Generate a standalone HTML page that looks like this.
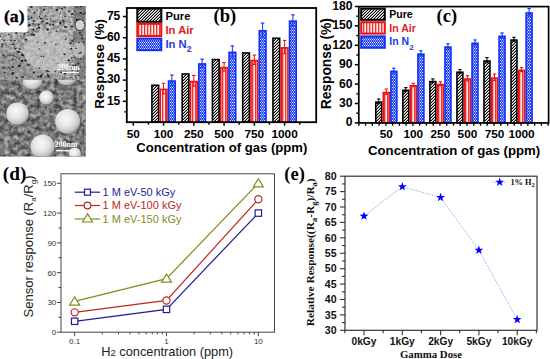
<!DOCTYPE html>
<html><head><meta charset="utf-8"><style>
html,body{margin:0;padding:0;background:#fff;}
svg{display:block;}
</style></head><body>
<svg width="550" height="359" viewBox="0 0 550 359">
<rect width="550" height="359" fill="#fff"/>
<defs>
<pattern id="hb" patternUnits="userSpaceOnUse" width="3" height="3">
<rect width="3" height="3" fill="#fff"/><rect x="0" y="2" width="1" height="1" fill="#000"/><rect x="1" y="1" width="1" height="1" fill="#000"/><rect x="2" y="0" width="1" height="1" fill="#000"/>
<rect x="0" y="1" width="1" height="1" fill="#999"/><rect x="1" y="0" width="1" height="1" fill="#999"/><rect x="2" y="2" width="1" height="1" fill="#999"/></pattern>
<pattern id="hr" patternUnits="userSpaceOnUse" width="3" height="3">
<rect width="3" height="3" fill="#f2b0b0"/><rect x="0" width="1" height="3" fill="#ee3434"/><rect x="2" width="1" height="3" fill="#fde8e8"/></pattern>
<pattern id="hn" patternUnits="userSpaceOnUse" width="2" height="3">
<rect width="2" height="3" fill="#1a3cf8"/><rect x="0" y="0" width="1" height="1" fill="#e8eeff"/><rect x="1" y="1.5" width="1" height="1" fill="#e8eeff"/></pattern>
<filter id="noise" x="0" y="0" width="100%" height="100%">
<feTurbulence type="fractalNoise" baseFrequency="0.55" numOctaves="2" seed="3" result="t"/>
<feColorMatrix in="t" type="matrix" values="0 0 0 0 0  0 0 0 0 0  0 0 0 0 0  0 0 0 -2.2 1.25" result="m"/>
<feComposite in="m" in2="SourceGraphic" operator="in"/>
</filter>
<filter id="gn1" x="0" y="0" width="100%" height="100%" color-interpolation-filters="sRGB">
<feTurbulence type="fractalNoise" baseFrequency="0.3" numOctaves="2" seed="5"/>
<feColorMatrix type="matrix" values="1.5 0 0 0 -0.2  1.5 0 0 0 -0.2  1.5 0 0 0 -0.2  0 0 0 0 1"/>
</filter>
<filter id="gn2" x="0" y="0" width="100%" height="100%" color-interpolation-filters="sRGB">
<feTurbulence type="fractalNoise" baseFrequency="0.22" numOctaves="2" seed="11"/>
<feColorMatrix type="matrix" values="1.6 0 0 0 -0.3  1.6 0 0 0 -0.3  1.6 0 0 0 -0.3  0 0 0 0 1"/>
</filter>
<radialGradient id="sph" cx="0.42" cy="0.38" r="0.62">
<stop offset="0" stop-color="#f8f8f8"/><stop offset="0.5" stop-color="#e6e6e6"/><stop offset="0.85" stop-color="#c4c4c4"/><stop offset="1" stop-color="#9a9a9a"/>
</radialGradient>
</defs>
<clipPath id="cpt"><path d="M27.5,6 H85.7 V79.8 H0 V32.3 H27.5 Z"/></clipPath>
<clipPath id="cpb"><rect x="0" y="79.8" width="85.7" height="76.8"/></clipPath>
<g clip-path="url(#cpt)">
<rect x="0" y="5" width="86" height="75" fill="#b6b6b6"/>
<rect x="0" y="5" width="86" height="75" filter="url(#gn1)" opacity="0.4"/>
<ellipse cx="48" cy="52" rx="24" ry="22" fill="#cacaca" opacity="0.55"/>
<path d="M0,52 Q14,48 24,58 Q34,70 60,76 L62,80 L0,80 Z" fill="#6a6a6a" opacity="0.3"/>
<path d="M2,58 Q12,52 20,60" fill="none" stroke="#333" stroke-width="1.2" opacity="0.6"/>
<path d="M74,5 L86,5 L86,80 L80,80 Q72,62 74,50 Q70,35 76,28 Q72,18 74,5 Z" fill="#5a5a5a" opacity="0.5"/>
<ellipse cx="79" cy="50" rx="6" ry="8" fill="#cfcfcf" opacity="0.7"/>
<ellipse cx="80" cy="25" rx="5" ry="5.5" fill="#d2d2d2" stroke="#3a3a3a" stroke-width="1"/>
<ellipse cx="27.8" cy="16.3" rx="1.02" ry="0.82" fill="#151515" opacity="0.85"/>
<ellipse cx="6.2" cy="45.2" rx="0.79" ry="0.63" fill="#151515" opacity="0.85"/>
<ellipse cx="5.0" cy="43.1" rx="0.53" ry="0.42" fill="#151515" opacity="0.85"/>
<ellipse cx="37.3" cy="10.2" rx="0.57" ry="0.46" fill="#151515" opacity="0.85"/>
<ellipse cx="19.2" cy="52.1" rx="1.26" ry="1.01" fill="#151515" opacity="0.85"/>
<ellipse cx="49.6" cy="34.8" rx="0.54" ry="0.43" fill="#151515" opacity="0.85"/>
<ellipse cx="73.8" cy="26.7" rx="0.62" ry="0.49" fill="#151515" opacity="0.85"/>
<ellipse cx="10.1" cy="28.1" rx="1.15" ry="0.92" fill="#151515" opacity="0.85"/>
<ellipse cx="15.5" cy="48.6" rx="1.01" ry="0.81" fill="#151515" opacity="0.85"/>
<ellipse cx="5.1" cy="20.4" rx="1.04" ry="0.84" fill="#151515" opacity="0.85"/>
<ellipse cx="36.8" cy="28.6" rx="0.97" ry="0.77" fill="#151515" opacity="0.85"/>
<ellipse cx="39.0" cy="27.5" rx="1.14" ry="0.91" fill="#151515" opacity="0.85"/>
<ellipse cx="60.1" cy="23.3" rx="0.96" ry="0.77" fill="#151515" opacity="0.85"/>
<ellipse cx="45.2" cy="70.6" rx="0.73" ry="0.58" fill="#151515" opacity="0.85"/>
<ellipse cx="84.3" cy="13.9" rx="0.83" ry="0.67" fill="#151515" opacity="0.85"/>
<ellipse cx="65.1" cy="16.4" rx="0.89" ry="0.71" fill="#151515" opacity="0.85"/>
<ellipse cx="3.4" cy="55.1" rx="1.11" ry="0.89" fill="#151515" opacity="0.85"/>
<ellipse cx="39.2" cy="68.0" rx="0.88" ry="0.70" fill="#151515" opacity="0.85"/>
<ellipse cx="57.1" cy="9.6" rx="1.06" ry="0.85" fill="#151515" opacity="0.85"/>
<ellipse cx="55.7" cy="79.5" rx="1.16" ry="0.93" fill="#151515" opacity="0.85"/>
<ellipse cx="24.5" cy="33.9" rx="1.03" ry="0.83" fill="#151515" opacity="0.85"/>
<ellipse cx="1.9" cy="39.6" rx="0.63" ry="0.51" fill="#151515" opacity="0.85"/>
<ellipse cx="10.1" cy="9.4" rx="1.11" ry="0.89" fill="#151515" opacity="0.85"/>
<ellipse cx="11.1" cy="23.6" rx="0.81" ry="0.65" fill="#151515" opacity="0.85"/>
<ellipse cx="74.9" cy="11.0" rx="0.86" ry="0.69" fill="#151515" opacity="0.85"/>
<ellipse cx="47.3" cy="71.3" rx="1.19" ry="0.95" fill="#151515" opacity="0.85"/>
<ellipse cx="23.9" cy="36.1" rx="0.79" ry="0.63" fill="#151515" opacity="0.85"/>
<ellipse cx="76.0" cy="76.8" rx="0.62" ry="0.50" fill="#151515" opacity="0.85"/>
<ellipse cx="15.2" cy="22.4" rx="0.69" ry="0.55" fill="#151515" opacity="0.85"/>
<ellipse cx="0.4" cy="36.4" rx="0.80" ry="0.64" fill="#151515" opacity="0.85"/>
<ellipse cx="48.7" cy="76.5" rx="1.05" ry="0.84" fill="#151515" opacity="0.85"/>
<ellipse cx="4.6" cy="72.5" rx="1.12" ry="0.90" fill="#151515" opacity="0.85"/>
<ellipse cx="75.2" cy="64.8" rx="0.81" ry="0.65" fill="#151515" opacity="0.85"/>
<ellipse cx="34.3" cy="12.8" rx="1.01" ry="0.81" fill="#151515" opacity="0.85"/>
<ellipse cx="5.4" cy="10.1" rx="0.67" ry="0.53" fill="#151515" opacity="0.85"/>
<ellipse cx="14.0" cy="30.5" rx="0.54" ry="0.43" fill="#151515" opacity="0.85"/>
<ellipse cx="0.0" cy="16.3" rx="0.58" ry="0.46" fill="#151515" opacity="0.85"/>
<ellipse cx="31.3" cy="6.9" rx="1.20" ry="0.96" fill="#151515" opacity="0.85"/>
<ellipse cx="52.8" cy="16.1" rx="0.70" ry="0.56" fill="#151515" opacity="0.85"/>
<ellipse cx="29.9" cy="32.3" rx="0.60" ry="0.48" fill="#151515" opacity="0.85"/>
<ellipse cx="73.0" cy="79.5" rx="0.87" ry="0.70" fill="#151515" opacity="0.85"/>
<ellipse cx="41.6" cy="11.4" rx="0.58" ry="0.47" fill="#151515" opacity="0.85"/>
<ellipse cx="29.5" cy="24.9" rx="1.16" ry="0.93" fill="#151515" opacity="0.85"/>
<ellipse cx="13.9" cy="6.7" rx="1.26" ry="1.01" fill="#151515" opacity="0.85"/>
<ellipse cx="45.4" cy="16.0" rx="0.93" ry="0.75" fill="#151515" opacity="0.85"/>
<ellipse cx="2.3" cy="44.6" rx="1.28" ry="1.03" fill="#151515" opacity="0.85"/>
<ellipse cx="74.2" cy="57.2" rx="0.71" ry="0.57" fill="#151515" opacity="0.85"/>
<ellipse cx="31.5" cy="17.5" rx="1.12" ry="0.89" fill="#151515" opacity="0.85"/>
<ellipse cx="19.2" cy="65.9" rx="1.29" ry="1.03" fill="#151515" opacity="0.85"/>
<ellipse cx="73.3" cy="65.5" rx="1.15" ry="0.92" fill="#151515" opacity="0.85"/>
<ellipse cx="63.6" cy="22.0" rx="0.91" ry="0.73" fill="#151515" opacity="0.85"/>
<ellipse cx="30.6" cy="7.2" rx="0.52" ry="0.42" fill="#151515" opacity="0.85"/>
<ellipse cx="24.0" cy="24.4" rx="1.05" ry="0.84" fill="#151515" opacity="0.85"/>
<ellipse cx="82.3" cy="38.5" rx="1.25" ry="1.00" fill="#151515" opacity="0.85"/>
<ellipse cx="85.0" cy="76.6" rx="0.79" ry="0.63" fill="#151515" opacity="0.85"/>
<ellipse cx="19.0" cy="22.0" rx="0.66" ry="0.53" fill="#151515" opacity="0.85"/>
<ellipse cx="17.6" cy="51.8" rx="1.22" ry="0.98" fill="#151515" opacity="0.85"/>
<ellipse cx="72.3" cy="41.0" rx="1.02" ry="0.82" fill="#151515" opacity="0.85"/>
<ellipse cx="68.8" cy="11.4" rx="1.03" ry="0.82" fill="#151515" opacity="0.85"/>
<ellipse cx="78.2" cy="63.7" rx="1.10" ry="0.88" fill="#151515" opacity="0.85"/>
<ellipse cx="41.1" cy="18.4" rx="1.13" ry="0.91" fill="#151515" opacity="0.85"/>
<ellipse cx="28.6" cy="65.1" rx="1.28" ry="1.02" fill="#151515" opacity="0.85"/>
<ellipse cx="34.0" cy="35.1" rx="1.26" ry="1.01" fill="#151515" opacity="0.85"/>
<ellipse cx="62.3" cy="17.8" rx="0.60" ry="0.48" fill="#151515" opacity="0.85"/>
<ellipse cx="13.0" cy="72.9" rx="1.15" ry="0.92" fill="#151515" opacity="0.85"/>
<ellipse cx="12.6" cy="67.0" rx="1.28" ry="1.03" fill="#151515" opacity="0.85"/>
<ellipse cx="56.5" cy="31.3" rx="0.94" ry="0.75" fill="#151515" opacity="0.85"/>
<ellipse cx="11.3" cy="6.1" rx="1.28" ry="1.02" fill="#151515" opacity="0.85"/>
<ellipse cx="55.9" cy="44.5" rx="0.85" ry="0.68" fill="#151515" opacity="0.85"/>
<ellipse cx="75.0" cy="67.0" rx="0.67" ry="0.54" fill="#151515" opacity="0.85"/>
<ellipse cx="21.7" cy="27.0" rx="0.69" ry="0.55" fill="#151515" opacity="0.85"/>
<ellipse cx="50.4" cy="24.5" rx="0.84" ry="0.67" fill="#151515" opacity="0.85"/>
<ellipse cx="11.3" cy="73.3" rx="0.78" ry="0.63" fill="#151515" opacity="0.85"/>
<ellipse cx="39.4" cy="48.8" rx="0.84" ry="0.67" fill="#151515" opacity="0.85"/>
<ellipse cx="78.9" cy="42.6" rx="0.93" ry="0.74" fill="#151515" opacity="0.85"/>
<ellipse cx="45.0" cy="6.4" rx="0.85" ry="0.68" fill="#151515" opacity="0.85"/>
<ellipse cx="15.7" cy="5.3" rx="1.14" ry="0.91" fill="#151515" opacity="0.85"/>
<ellipse cx="14.8" cy="40.5" rx="1.08" ry="0.86" fill="#151515" opacity="0.85"/>
<ellipse cx="47.9" cy="29.4" rx="0.91" ry="0.73" fill="#151515" opacity="0.85"/>
<ellipse cx="48.2" cy="23.6" rx="0.72" ry="0.58" fill="#151515" opacity="0.85"/>
<ellipse cx="65.4" cy="73.4" rx="0.85" ry="0.68" fill="#151515" opacity="0.85"/>
<ellipse cx="41.1" cy="75.6" rx="1.06" ry="0.85" fill="#151515" opacity="0.85"/>
<ellipse cx="75.4" cy="75.7" rx="0.71" ry="0.57" fill="#151515" opacity="0.85"/>
<ellipse cx="48.1" cy="75.7" rx="1.17" ry="0.94" fill="#151515" opacity="0.85"/>
<ellipse cx="11.8" cy="14.1" rx="0.85" ry="0.68" fill="#151515" opacity="0.85"/>
<ellipse cx="6.2" cy="23.0" rx="0.56" ry="0.45" fill="#151515" opacity="0.85"/>
<ellipse cx="57.6" cy="63.8" rx="0.62" ry="0.50" fill="#151515" opacity="0.85"/>
<ellipse cx="75.9" cy="77.6" rx="0.68" ry="0.54" fill="#151515" opacity="0.85"/>
<ellipse cx="81.9" cy="34.9" rx="0.89" ry="0.71" fill="#151515" opacity="0.85"/>
<ellipse cx="85.1" cy="67.4" rx="0.63" ry="0.50" fill="#151515" opacity="0.85"/>
<ellipse cx="16.8" cy="28.9" rx="1.08" ry="0.86" fill="#151515" opacity="0.85"/>
<ellipse cx="1.7" cy="46.6" rx="0.85" ry="0.68" fill="#151515" opacity="0.85"/>
<ellipse cx="1.6" cy="29.9" rx="1.00" ry="0.80" fill="#151515" opacity="0.85"/>
<ellipse cx="44.1" cy="9.8" rx="1.29" ry="1.03" fill="#151515" opacity="0.85"/>
<ellipse cx="67.8" cy="77.9" rx="0.58" ry="0.47" fill="#151515" opacity="0.85"/>
<ellipse cx="22.8" cy="8.0" rx="1.12" ry="0.90" fill="#151515" opacity="0.85"/>
<ellipse cx="23.3" cy="14.7" rx="0.84" ry="0.67" fill="#151515" opacity="0.85"/>
<ellipse cx="78.4" cy="66.4" rx="0.71" ry="0.57" fill="#151515" opacity="0.85"/>
<ellipse cx="12.8" cy="73.9" rx="0.96" ry="0.77" fill="#151515" opacity="0.85"/>
<ellipse cx="60.2" cy="11.7" rx="0.55" ry="0.44" fill="#151515" opacity="0.85"/>
<ellipse cx="80.7" cy="52.6" rx="1.14" ry="0.91" fill="#151515" opacity="0.85"/>
<ellipse cx="7.2" cy="69.2" rx="0.55" ry="0.44" fill="#151515" opacity="0.85"/>
<ellipse cx="74.2" cy="39.0" rx="0.77" ry="0.62" fill="#151515" opacity="0.85"/>
<ellipse cx="47.6" cy="74.5" rx="0.71" ry="0.57" fill="#151515" opacity="0.85"/>
<ellipse cx="11.1" cy="44.5" rx="0.69" ry="0.55" fill="#151515" opacity="0.85"/>
<ellipse cx="9.4" cy="17.1" rx="0.54" ry="0.43" fill="#151515" opacity="0.85"/>
<ellipse cx="17.4" cy="28.4" rx="0.74" ry="0.60" fill="#151515" opacity="0.85"/>
<ellipse cx="65.3" cy="26.7" rx="0.90" ry="0.72" fill="#151515" opacity="0.85"/>
<ellipse cx="15.3" cy="31.0" rx="0.51" ry="0.41" fill="#151515" opacity="0.85"/>
<ellipse cx="21.5" cy="6.2" rx="1.09" ry="0.87" fill="#151515" opacity="0.85"/>
<ellipse cx="47.4" cy="19.2" rx="0.88" ry="0.70" fill="#151515" opacity="0.85"/>
<ellipse cx="80.4" cy="13.0" rx="1.16" ry="0.92" fill="#151515" opacity="0.85"/>
<ellipse cx="37.2" cy="42.1" rx="0.81" ry="0.65" fill="#151515" opacity="0.85"/>
<ellipse cx="43.6" cy="56.6" rx="0.77" ry="0.62" fill="#151515" opacity="0.85"/>
<ellipse cx="71.6" cy="58.0" rx="1.01" ry="0.81" fill="#151515" opacity="0.85"/>
<ellipse cx="34.8" cy="31.1" rx="0.54" ry="0.43" fill="#151515" opacity="0.85"/>
<ellipse cx="11.2" cy="10.3" rx="1.09" ry="0.87" fill="#151515" opacity="0.85"/>
<ellipse cx="22.0" cy="17.2" rx="0.57" ry="0.45" fill="#151515" opacity="0.85"/>
<ellipse cx="72.3" cy="70.3" rx="1.04" ry="0.83" fill="#151515" opacity="0.85"/>
<ellipse cx="24.2" cy="23.2" rx="0.73" ry="0.59" fill="#151515" opacity="0.85"/>
<ellipse cx="39.5" cy="16.8" rx="0.86" ry="0.69" fill="#151515" opacity="0.85"/>
<ellipse cx="22.6" cy="77.1" rx="1.28" ry="1.02" fill="#151515" opacity="0.85"/>
<ellipse cx="47.0" cy="23.3" rx="1.27" ry="1.02" fill="#151515" opacity="0.85"/>
<ellipse cx="26.6" cy="31.7" rx="0.50" ry="0.40" fill="#151515" opacity="0.85"/>
<ellipse cx="17.3" cy="42.9" rx="0.50" ry="0.40" fill="#151515" opacity="0.85"/>
<ellipse cx="22.7" cy="11.7" rx="0.82" ry="0.66" fill="#151515" opacity="0.85"/>
<ellipse cx="3.6" cy="6.7" rx="0.74" ry="0.59" fill="#151515" opacity="0.85"/>
<ellipse cx="20.0" cy="48.9" rx="0.92" ry="0.74" fill="#151515" opacity="0.85"/>
<ellipse cx="64.5" cy="54.3" rx="1.20" ry="0.96" fill="#151515" opacity="0.85"/>
<ellipse cx="33.5" cy="29.5" rx="1.29" ry="1.03" fill="#151515" opacity="0.85"/>
<ellipse cx="12.9" cy="59.3" rx="1.01" ry="0.81" fill="#151515" opacity="0.85"/>
<ellipse cx="3.8" cy="67.6" rx="1.21" ry="0.97" fill="#151515" opacity="0.85"/>
<ellipse cx="54.0" cy="60.0" rx="0.61" ry="0.49" fill="#151515" opacity="0.85"/>
<ellipse cx="45.0" cy="42.8" rx="1.14" ry="0.91" fill="#151515" opacity="0.85"/>
<ellipse cx="71.1" cy="48.8" rx="1.21" ry="0.97" fill="#151515" opacity="0.85"/>
<ellipse cx="2.7" cy="15.0" rx="0.79" ry="0.63" fill="#151515" opacity="0.85"/>
<ellipse cx="9.0" cy="67.7" rx="0.95" ry="0.76" fill="#151515" opacity="0.85"/>
<ellipse cx="42.1" cy="5.2" rx="1.14" ry="0.91" fill="#151515" opacity="0.85"/>
<ellipse cx="56.7" cy="10.0" rx="1.09" ry="0.87" fill="#151515" opacity="0.85"/>
<ellipse cx="21.7" cy="10.6" rx="0.71" ry="0.57" fill="#151515" opacity="0.85"/>
<ellipse cx="62.7" cy="20.4" rx="1.09" ry="0.87" fill="#151515" opacity="0.85"/>
<ellipse cx="83.9" cy="42.0" rx="0.81" ry="0.64" fill="#151515" opacity="0.85"/>
<ellipse cx="41.2" cy="56.3" rx="0.99" ry="0.79" fill="#151515" opacity="0.85"/>
<ellipse cx="55.3" cy="10.8" rx="0.62" ry="0.49" fill="#151515" opacity="0.85"/>
<ellipse cx="21.8" cy="60.7" rx="0.74" ry="0.59" fill="#151515" opacity="0.85"/>
<ellipse cx="48.8" cy="5.9" rx="0.55" ry="0.44" fill="#151515" opacity="0.85"/>
<ellipse cx="23.1" cy="55.4" rx="1.05" ry="0.84" fill="#151515" opacity="0.85"/>
<ellipse cx="58.1" cy="26.8" rx="0.91" ry="0.73" fill="#151515" opacity="0.85"/>
<ellipse cx="76.9" cy="19.9" rx="1.28" ry="1.03" fill="#151515" opacity="0.85"/>
<ellipse cx="80.5" cy="6.3" rx="0.87" ry="0.69" fill="#151515" opacity="0.85"/>
<ellipse cx="70.5" cy="77.6" rx="0.86" ry="0.69" fill="#151515" opacity="0.85"/>
<ellipse cx="23.1" cy="20.7" rx="1.26" ry="1.01" fill="#151515" opacity="0.85"/>
<ellipse cx="18.1" cy="48.6" rx="0.61" ry="0.49" fill="#151515" opacity="0.85"/>
<ellipse cx="45.1" cy="76.5" rx="0.61" ry="0.48" fill="#151515" opacity="0.85"/>
<ellipse cx="70.5" cy="43.2" rx="1.21" ry="0.97" fill="#151515" opacity="0.85"/>
<ellipse cx="60.5" cy="22.4" rx="1.22" ry="0.97" fill="#151515" opacity="0.85"/>
<ellipse cx="41.8" cy="6.9" rx="0.50" ry="0.40" fill="#151515" opacity="0.85"/>
<ellipse cx="12.1" cy="30.8" rx="0.75" ry="0.60" fill="#151515" opacity="0.85"/>
<ellipse cx="72.3" cy="5.1" rx="1.10" ry="0.88" fill="#151515" opacity="0.85"/>
<ellipse cx="72.2" cy="14.0" rx="1.24" ry="0.99" fill="#151515" opacity="0.85"/>
<ellipse cx="61.3" cy="72.6" rx="0.73" ry="0.59" fill="#151515" opacity="0.85"/>
<ellipse cx="32.0" cy="34.5" rx="1.30" ry="1.04" fill="#151515" opacity="0.85"/>
<ellipse cx="50.7" cy="32.1" rx="0.84" ry="0.67" fill="#151515" opacity="0.85"/>
<ellipse cx="23.7" cy="8.6" rx="0.58" ry="0.47" fill="#151515" opacity="0.85"/>
<ellipse cx="71.8" cy="26.4" rx="1.25" ry="1.00" fill="#151515" opacity="0.85"/>
<ellipse cx="21.4" cy="24.9" rx="0.91" ry="0.73" fill="#151515" opacity="0.85"/>
<ellipse cx="16.3" cy="33.0" rx="1.26" ry="1.01" fill="#151515" opacity="0.85"/>
<ellipse cx="76.0" cy="65.9" rx="1.00" ry="0.80" fill="#151515" opacity="0.85"/>
<ellipse cx="78.6" cy="75.6" rx="0.94" ry="0.75" fill="#151515" opacity="0.85"/>
<ellipse cx="61.9" cy="8.7" rx="1.09" ry="0.87" fill="#151515" opacity="0.85"/>
<ellipse cx="24.6" cy="8.7" rx="1.24" ry="0.99" fill="#151515" opacity="0.85"/>
<ellipse cx="10.9" cy="40.4" rx="0.77" ry="0.62" fill="#151515" opacity="0.85"/>
<ellipse cx="25.6" cy="60.4" rx="1.28" ry="1.02" fill="#151515" opacity="0.85"/>
<ellipse cx="22.4" cy="54.2" rx="0.74" ry="0.59" fill="#151515" opacity="0.85"/>
<ellipse cx="13.9" cy="20.6" rx="1.22" ry="0.98" fill="#151515" opacity="0.85"/>
<ellipse cx="42.7" cy="21.5" rx="1.23" ry="0.98" fill="#151515" opacity="0.85"/>
<ellipse cx="85.7" cy="38.7" rx="0.61" ry="0.49" fill="#151515" opacity="0.85"/>
<ellipse cx="16.5" cy="11.8" rx="0.77" ry="0.62" fill="#151515" opacity="0.85"/>
<ellipse cx="7.8" cy="22.9" rx="0.71" ry="0.57" fill="#151515" opacity="0.85"/>
<ellipse cx="49.0" cy="71.5" rx="0.83" ry="0.66" fill="#151515" opacity="0.85"/>
<ellipse cx="29.1" cy="9.7" rx="0.72" ry="0.58" fill="#151515" opacity="0.85"/>
<ellipse cx="83.2" cy="14.4" rx="0.90" ry="0.72" fill="#151515" opacity="0.85"/>
<ellipse cx="23.3" cy="23.6" rx="0.82" ry="0.66" fill="#151515" opacity="0.85"/>
<ellipse cx="38.3" cy="76.5" rx="1.18" ry="0.94" fill="#151515" opacity="0.85"/>
<ellipse cx="75.1" cy="6.6" rx="0.53" ry="0.42" fill="#151515" opacity="0.85"/>
<ellipse cx="61.0" cy="72.2" rx="0.88" ry="0.70" fill="#151515" opacity="0.85"/>
<ellipse cx="50.5" cy="5.0" rx="0.81" ry="0.65" fill="#151515" opacity="0.85"/>
<ellipse cx="79.7" cy="66.9" rx="1.18" ry="0.95" fill="#151515" opacity="0.85"/>
<ellipse cx="83.6" cy="23.6" rx="0.59" ry="0.47" fill="#151515" opacity="0.85"/>
<ellipse cx="13.3" cy="44.2" rx="1.05" ry="0.84" fill="#151515" opacity="0.85"/>
<ellipse cx="81.0" cy="59.1" rx="1.02" ry="0.81" fill="#151515" opacity="0.85"/>
<ellipse cx="65.8" cy="39.3" rx="0.94" ry="0.75" fill="#151515" opacity="0.85"/>
<ellipse cx="3.4" cy="63.7" rx="0.69" ry="0.55" fill="#151515" opacity="0.85"/>
<ellipse cx="79.1" cy="53.4" rx="0.74" ry="0.59" fill="#151515" opacity="0.85"/>
<ellipse cx="11.0" cy="23.9" rx="1.01" ry="0.81" fill="#151515" opacity="0.85"/>
<ellipse cx="60.1" cy="13.4" rx="0.56" ry="0.45" fill="#151515" opacity="0.85"/>
<ellipse cx="19.2" cy="50.1" rx="0.51" ry="0.41" fill="#151515" opacity="0.85"/>
<ellipse cx="25.9" cy="39.6" rx="1.27" ry="1.01" fill="#151515" opacity="0.85"/>
<ellipse cx="55.4" cy="71.3" rx="0.88" ry="0.70" fill="#151515" opacity="0.85"/>
<ellipse cx="20.2" cy="23.5" rx="1.27" ry="1.01" fill="#151515" opacity="0.85"/>
<ellipse cx="60.6" cy="28.1" rx="0.52" ry="0.41" fill="#151515" opacity="0.85"/>
<ellipse cx="22.1" cy="55.1" rx="1.24" ry="0.99" fill="#151515" opacity="0.85"/>
<ellipse cx="19.5" cy="7.6" rx="0.77" ry="0.62" fill="#151515" opacity="0.85"/>
<ellipse cx="68.5" cy="60.4" rx="0.90" ry="0.72" fill="#151515" opacity="0.85"/>
<ellipse cx="17.6" cy="77.7" rx="0.75" ry="0.60" fill="#151515" opacity="0.85"/>
<ellipse cx="70.5" cy="22.3" rx="0.68" ry="0.54" fill="#151515" opacity="0.85"/>
<ellipse cx="65.4" cy="27.1" rx="1.26" ry="1.01" fill="#151515" opacity="0.85"/>
<ellipse cx="42.6" cy="19.0" rx="0.68" ry="0.54" fill="#151515" opacity="0.85"/>
<ellipse cx="35.9" cy="54.9" rx="0.62" ry="0.49" fill="#151515" opacity="0.85"/>
<ellipse cx="33.8" cy="21.0" rx="1.28" ry="1.02" fill="#151515" opacity="0.85"/>
<ellipse cx="12.2" cy="8.9" rx="0.55" ry="0.44" fill="#151515" opacity="0.85"/>
<ellipse cx="33.8" cy="72.4" rx="1.21" ry="0.97" fill="#151515" opacity="0.85"/>
<ellipse cx="63.0" cy="79.8" rx="1.25" ry="1.00" fill="#151515" opacity="0.85"/>
<ellipse cx="28.3" cy="18.9" rx="1.25" ry="1.00" fill="#151515" opacity="0.85"/>
<ellipse cx="64.2" cy="7.4" rx="1.03" ry="0.83" fill="#151515" opacity="0.85"/>
<ellipse cx="32.6" cy="33.0" rx="0.77" ry="0.61" fill="#151515" opacity="0.85"/>
<ellipse cx="14.6" cy="5.2" rx="0.72" ry="0.58" fill="#151515" opacity="0.85"/>
<ellipse cx="30.2" cy="76.7" rx="0.60" ry="0.48" fill="#151515" opacity="0.85"/>
<ellipse cx="82.9" cy="20.6" rx="0.79" ry="0.63" fill="#151515" opacity="0.85"/>
<ellipse cx="70.7" cy="66.7" rx="0.85" ry="0.68" fill="#151515" opacity="0.85"/>
<ellipse cx="4.2" cy="40.5" rx="0.80" ry="0.64" fill="#151515" opacity="0.85"/>
<ellipse cx="79.1" cy="19.5" rx="0.79" ry="0.63" fill="#151515" opacity="0.85"/>
<ellipse cx="77.1" cy="7.3" rx="0.83" ry="0.66" fill="#151515" opacity="0.85"/>
<ellipse cx="69.8" cy="62.5" rx="0.53" ry="0.43" fill="#151515" opacity="0.85"/>
<ellipse cx="3.0" cy="9.7" rx="1.24" ry="0.99" fill="#151515" opacity="0.85"/>
<ellipse cx="22.1" cy="61.0" rx="1.22" ry="0.98" fill="#151515" opacity="0.85"/>
<ellipse cx="29.2" cy="25.4" rx="1.27" ry="1.01" fill="#151515" opacity="0.85"/>
<ellipse cx="53.1" cy="24.7" rx="1.07" ry="0.86" fill="#151515" opacity="0.85"/>
<ellipse cx="27.2" cy="25.7" rx="0.50" ry="0.40" fill="#151515" opacity="0.85"/>
<ellipse cx="65.0" cy="73.7" rx="1.01" ry="0.81" fill="#151515" opacity="0.85"/>
<ellipse cx="81.1" cy="6.8" rx="0.69" ry="0.55" fill="#151515" opacity="0.85"/>
<ellipse cx="40.9" cy="76.8" rx="1.26" ry="1.01" fill="#151515" opacity="0.85"/>
<ellipse cx="33.2" cy="23.8" rx="0.84" ry="0.68" fill="#151515" opacity="0.85"/>
<ellipse cx="42.4" cy="74.6" rx="0.65" ry="0.52" fill="#151515" opacity="0.85"/>
<ellipse cx="69.0" cy="60.4" rx="1.16" ry="0.93" fill="#151515" opacity="0.85"/>
<ellipse cx="27.5" cy="32.1" rx="1.13" ry="0.90" fill="#151515" opacity="0.85"/>
<ellipse cx="6.8" cy="19.8" rx="1.10" ry="0.88" fill="#151515" opacity="0.85"/>
<ellipse cx="21.3" cy="9.9" rx="0.53" ry="0.42" fill="#151515" opacity="0.85"/>
<ellipse cx="47.5" cy="29.4" rx="1.28" ry="1.03" fill="#151515" opacity="0.85"/>
<ellipse cx="76.0" cy="79.1" rx="0.71" ry="0.57" fill="#151515" opacity="0.85"/>
<ellipse cx="7.2" cy="12.2" rx="0.90" ry="0.72" fill="#151515" opacity="0.85"/>
<ellipse cx="64.3" cy="68.5" rx="1.03" ry="0.83" fill="#151515" opacity="0.85"/>
<ellipse cx="10.4" cy="68.1" rx="0.74" ry="0.59" fill="#151515" opacity="0.85"/>
<ellipse cx="48.8" cy="33.0" rx="0.66" ry="0.53" fill="#151515" opacity="0.85"/>
<ellipse cx="21.3" cy="23.4" rx="0.62" ry="0.50" fill="#151515" opacity="0.85"/>
<ellipse cx="76.0" cy="48.4" rx="0.76" ry="0.61" fill="#151515" opacity="0.85"/>
<ellipse cx="34.1" cy="79.4" rx="0.91" ry="0.72" fill="#151515" opacity="0.85"/>
<ellipse cx="19.9" cy="65.6" rx="1.02" ry="0.82" fill="#151515" opacity="0.85"/>
<ellipse cx="85.2" cy="12.7" rx="0.88" ry="0.70" fill="#151515" opacity="0.85"/>
<ellipse cx="70.4" cy="68.0" rx="1.23" ry="0.99" fill="#151515" opacity="0.85"/>
<ellipse cx="3.5" cy="27.0" rx="0.60" ry="0.48" fill="#151515" opacity="0.85"/>
<ellipse cx="16.3" cy="78.0" rx="0.97" ry="0.77" fill="#151515" opacity="0.85"/>
<ellipse cx="80.0" cy="32.9" rx="1.19" ry="0.95" fill="#151515" opacity="0.85"/>
<ellipse cx="38.6" cy="24.5" rx="1.12" ry="0.90" fill="#151515" opacity="0.85"/>
<ellipse cx="81.3" cy="12.9" rx="0.98" ry="0.78" fill="#151515" opacity="0.85"/>
<ellipse cx="53.3" cy="21.3" rx="0.79" ry="0.64" fill="#151515" opacity="0.85"/>
<ellipse cx="12.2" cy="20.3" rx="0.70" ry="0.56" fill="#151515" opacity="0.85"/>
<ellipse cx="1.0" cy="29.5" rx="1.04" ry="0.83" fill="#151515" opacity="0.85"/>
<ellipse cx="15.9" cy="28.4" rx="0.66" ry="0.53" fill="#151515" opacity="0.85"/>
<ellipse cx="8.7" cy="34.6" rx="0.94" ry="0.75" fill="#151515" opacity="0.85"/>
</g>
<g clip-path="url(#cpb)">
<rect x="0" y="79" width="86" height="78" fill="#707070"/>
<rect x="0" y="79" width="86" height="78" filter="url(#gn2)" opacity="0.5"/>
<circle cx="33.4" cy="80.6" r="10" fill="#555" opacity="0.5"/>
<circle cx="32.6" cy="79.8" r="10" fill="url(#sph)"/>
<circle cx="67.8" cy="75.3" r="11" fill="#555" opacity="0.5"/>
<circle cx="67" cy="74.5" r="11" fill="url(#sph)"/>
<circle cx="47.199999999999996" cy="98.39999999999999" r="7.2" fill="#555" opacity="0.5"/>
<circle cx="46.4" cy="97.6" r="7.2" fill="url(#sph)"/>
<circle cx="18.3" cy="114.6" r="11.3" fill="#555" opacity="0.5"/>
<circle cx="17.5" cy="113.8" r="11.3" fill="url(#sph)"/>
<circle cx="68.5" cy="122.2" r="12.5" fill="#555" opacity="0.5"/>
<circle cx="67.7" cy="121.4" r="12.5" fill="url(#sph)"/>
<circle cx="43.4" cy="147.20000000000002" r="12" fill="#555" opacity="0.5"/>
<circle cx="42.6" cy="146.4" r="12" fill="url(#sph)"/>
<circle cx="75.8" cy="154.3" r="6" fill="#555" opacity="0.5"/>
<circle cx="75" cy="153.5" r="6" fill="url(#sph)"/>
</g>
<text x="4.0" y="22.2" font-family='"Liberation Serif", serif' font-size="17.6" font-weight="bold" fill="#000" text-anchor="start" stroke="#000" stroke-width="0.35">(a)</text>
<text x="57.3" y="70.2" font-family='"Liberation Serif", serif' font-size="7.8" font-weight="bold" fill="#fff" text-anchor="start" >200nm</text>
<line x1="62.00" y1="72.60" x2="79.00" y2="72.60" stroke="#fff" stroke-width="1" />
<text x="54.8" y="146.8" font-family='"Liberation Serif", serif' font-size="7.8" font-weight="bold" fill="#fff" text-anchor="start" >200nm</text>
<line x1="56.00" y1="150.70" x2="73.00" y2="150.70" stroke="#fff" stroke-width="1.2" />
<rect x="151.91" y="85.29" width="6.70" height="36.91" fill="url(#hb)" stroke="#000" stroke-width="1.6" />
<rect x="160.21" y="89.39" width="6.70" height="32.81" fill="url(#hr)" stroke="#f01010" stroke-width="1.6" />
<line x1="163.56" y1="83.36" x2="163.56" y2="93.82" stroke="#f01010" stroke-width="1" />
<line x1="161.76" y1="83.36" x2="165.36" y2="83.36" stroke="#f01010" stroke-width="1.1" />
<line x1="161.76" y1="93.82" x2="165.36" y2="93.82" stroke="#f01010" stroke-width="1.1" />
<rect x="168.51" y="81.05" width="6.70" height="41.15" fill="url(#hn)" stroke="#1030f4" stroke-width="1.6" />
<line x1="171.86" y1="75.02" x2="171.86" y2="85.48" stroke="#1030f4" stroke-width="1" />
<line x1="170.06" y1="75.02" x2="173.66" y2="75.02" stroke="#1030f4" stroke-width="1.1" />
<line x1="170.06" y1="85.48" x2="173.66" y2="85.48" stroke="#1030f4" stroke-width="1.1" />
<rect x="182.17" y="73.99" width="6.70" height="48.21" fill="url(#hb)" stroke="#000" stroke-width="1.6" />
<rect x="190.47" y="81.62" width="6.70" height="40.58" fill="url(#hr)" stroke="#f01010" stroke-width="1.6" />
<line x1="193.82" y1="75.45" x2="193.82" y2="86.19" stroke="#f01010" stroke-width="1" />
<line x1="192.02" y1="75.45" x2="195.62" y2="75.45" stroke="#f01010" stroke-width="1.1" />
<line x1="192.02" y1="86.19" x2="195.62" y2="86.19" stroke="#f01010" stroke-width="1.1" />
<rect x="198.77" y="63.95" width="6.70" height="58.25" fill="url(#hn)" stroke="#1030f4" stroke-width="1.6" />
<line x1="202.12" y1="59.06" x2="202.12" y2="67.25" stroke="#1030f4" stroke-width="1" />
<line x1="200.32" y1="59.06" x2="203.92" y2="59.06" stroke="#1030f4" stroke-width="1.1" />
<line x1="200.32" y1="67.25" x2="203.92" y2="67.25" stroke="#1030f4" stroke-width="1.1" />
<rect x="212.43" y="59.57" width="6.70" height="62.63" fill="url(#hb)" stroke="#000" stroke-width="1.6" />
<rect x="220.73" y="67.63" width="6.70" height="54.57" fill="url(#hr)" stroke="#f01010" stroke-width="1.6" />
<line x1="224.08" y1="62.59" x2="224.08" y2="71.07" stroke="#f01010" stroke-width="1" />
<line x1="222.28" y1="62.59" x2="225.88" y2="62.59" stroke="#f01010" stroke-width="1.1" />
<line x1="222.28" y1="71.07" x2="225.88" y2="71.07" stroke="#f01010" stroke-width="1.1" />
<rect x="229.03" y="52.37" width="6.70" height="69.83" fill="url(#hn)" stroke="#1030f4" stroke-width="1.6" />
<line x1="232.38" y1="45.92" x2="232.38" y2="57.22" stroke="#1030f4" stroke-width="1" />
<line x1="230.58" y1="45.92" x2="234.18" y2="45.92" stroke="#1030f4" stroke-width="1.1" />
<line x1="230.58" y1="57.22" x2="234.18" y2="57.22" stroke="#1030f4" stroke-width="1.1" />
<rect x="242.69" y="52.93" width="6.70" height="69.27" fill="url(#hb)" stroke="#000" stroke-width="1.6" />
<rect x="250.99" y="60.56" width="6.70" height="61.64" fill="url(#hr)" stroke="#f01010" stroke-width="1.6" />
<line x1="254.34" y1="55.10" x2="254.34" y2="64.43" stroke="#f01010" stroke-width="1" />
<line x1="252.54" y1="55.10" x2="256.14" y2="55.10" stroke="#f01010" stroke-width="1.1" />
<line x1="252.54" y1="64.43" x2="256.14" y2="64.43" stroke="#f01010" stroke-width="1.1" />
<rect x="259.29" y="30.75" width="6.70" height="91.45" fill="url(#hn)" stroke="#1030f4" stroke-width="1.6" />
<line x1="262.64" y1="23.02" x2="262.64" y2="36.87" stroke="#1030f4" stroke-width="1" />
<line x1="260.84" y1="23.02" x2="264.44" y2="23.02" stroke="#1030f4" stroke-width="1.1" />
<line x1="260.84" y1="36.87" x2="264.44" y2="36.87" stroke="#1030f4" stroke-width="1.1" />
<rect x="272.95" y="38.24" width="6.70" height="83.96" fill="url(#hb)" stroke="#000" stroke-width="1.6" />
<rect x="281.25" y="47.85" width="6.70" height="74.35" fill="url(#hr)" stroke="#f01010" stroke-width="1.6" />
<line x1="284.60" y1="40.40" x2="284.60" y2="53.69" stroke="#f01010" stroke-width="1" />
<line x1="282.80" y1="40.40" x2="286.40" y2="40.40" stroke="#f01010" stroke-width="1.1" />
<line x1="282.80" y1="53.69" x2="286.40" y2="53.69" stroke="#f01010" stroke-width="1.1" />
<rect x="289.55" y="21.14" width="6.70" height="101.06" fill="url(#hn)" stroke="#1030f4" stroke-width="1.6" />
<line x1="292.90" y1="14.83" x2="292.90" y2="25.85" stroke="#1030f4" stroke-width="1" />
<line x1="291.10" y1="14.83" x2="294.70" y2="14.83" stroke="#1030f4" stroke-width="1.1" />
<line x1="291.10" y1="25.85" x2="294.70" y2="25.85" stroke="#1030f4" stroke-width="1.1" />
<rect x="126.80" y="8.00" width="189.40" height="114.20" fill="none" stroke="#000" stroke-width="1.8" />
<line x1="122.80" y1="101.31" x2="126.80" y2="101.31" stroke="#000" stroke-width="1.5" />
<line x1="122.80" y1="80.11" x2="126.80" y2="80.11" stroke="#000" stroke-width="1.5" />
<line x1="122.80" y1="58.91" x2="126.80" y2="58.91" stroke="#000" stroke-width="1.5" />
<line x1="122.80" y1="37.72" x2="126.80" y2="37.72" stroke="#000" stroke-width="1.5" />
<line x1="122.80" y1="16.52" x2="126.80" y2="16.52" stroke="#000" stroke-width="1.5" />
<line x1="124.30" y1="111.90" x2="126.80" y2="111.90" stroke="#000" stroke-width="1.4" />
<line x1="124.30" y1="90.71" x2="126.80" y2="90.71" stroke="#000" stroke-width="1.4" />
<line x1="124.30" y1="69.51" x2="126.80" y2="69.51" stroke="#000" stroke-width="1.4" />
<line x1="124.30" y1="48.32" x2="126.80" y2="48.32" stroke="#000" stroke-width="1.4" />
<line x1="124.30" y1="27.12" x2="126.80" y2="27.12" stroke="#000" stroke-width="1.4" />
<line x1="133.30" y1="122.20" x2="133.30" y2="125.70" stroke="#000" stroke-width="1.5" />
<line x1="163.56" y1="122.20" x2="163.56" y2="125.70" stroke="#000" stroke-width="1.5" />
<line x1="193.82" y1="122.20" x2="193.82" y2="125.70" stroke="#000" stroke-width="1.5" />
<line x1="224.08" y1="122.20" x2="224.08" y2="125.70" stroke="#000" stroke-width="1.5" />
<line x1="254.34" y1="122.20" x2="254.34" y2="125.70" stroke="#000" stroke-width="1.5" />
<line x1="284.60" y1="122.20" x2="284.60" y2="125.70" stroke="#000" stroke-width="1.5" />
<line x1="148.43" y1="122.20" x2="148.43" y2="124.70" stroke="#000" stroke-width="1.4" />
<line x1="178.69" y1="122.20" x2="178.69" y2="124.70" stroke="#000" stroke-width="1.4" />
<line x1="208.95" y1="122.20" x2="208.95" y2="124.70" stroke="#000" stroke-width="1.4" />
<line x1="239.21" y1="122.20" x2="239.21" y2="124.70" stroke="#000" stroke-width="1.4" />
<line x1="269.47" y1="122.20" x2="269.47" y2="124.70" stroke="#000" stroke-width="1.4" />
<line x1="299.73" y1="122.20" x2="299.73" y2="124.70" stroke="#000" stroke-width="1.4" />
<text x="120.3" y="104.605" font-family='"Liberation Sans", sans-serif' font-size="12" font-weight="bold" fill="#000" text-anchor="end" >15</text>
<text x="120.3" y="83.41" font-family='"Liberation Sans", sans-serif' font-size="12" font-weight="bold" fill="#000" text-anchor="end" >30</text>
<text x="120.3" y="62.214999999999996" font-family='"Liberation Sans", sans-serif' font-size="12" font-weight="bold" fill="#000" text-anchor="end" >45</text>
<text x="120.3" y="41.019999999999996" font-family='"Liberation Sans", sans-serif' font-size="12" font-weight="bold" fill="#000" text-anchor="end" >60</text>
<text x="120.3" y="19.824999999999992" font-family='"Liberation Sans", sans-serif' font-size="12" font-weight="bold" fill="#000" text-anchor="end" >75</text>
<text x="133.3" y="137.9" font-family='"Liberation Sans", sans-serif' font-size="11.8" font-weight="bold" fill="#000" text-anchor="middle" >50</text>
<text x="163.56" y="137.9" font-family='"Liberation Sans", sans-serif' font-size="11.8" font-weight="bold" fill="#000" text-anchor="middle" >100</text>
<text x="193.82000000000002" y="137.9" font-family='"Liberation Sans", sans-serif' font-size="11.8" font-weight="bold" fill="#000" text-anchor="middle" >250</text>
<text x="224.08" y="137.9" font-family='"Liberation Sans", sans-serif' font-size="11.8" font-weight="bold" fill="#000" text-anchor="middle" >500</text>
<text x="254.34000000000003" y="137.9" font-family='"Liberation Sans", sans-serif' font-size="11.8" font-weight="bold" fill="#000" text-anchor="middle" >750</text>
<text x="284.6" y="137.9" font-family='"Liberation Sans", sans-serif' font-size="11.8" font-weight="bold" fill="#000" text-anchor="middle" >1000</text>
<text x="103.9" y="108.8" font-family='"Liberation Sans", sans-serif' font-size="13.6" font-weight="bold" fill="#000" text-anchor="start" transform="rotate(-90 103.9 108.8)" >Response (%)</text>
<text x="221.8" y="152.3" font-family='"Liberation Sans", sans-serif' font-size="13.1" font-weight="bold" fill="#000" text-anchor="middle" >Concentration of gas (ppm)</text>
<text x="213.6" y="22.4" font-family='"Liberation Serif", serif' font-size="18.5" font-weight="bold" fill="#000" text-anchor="start" >(b)</text>
<rect x="137.30" y="8.60" width="24.00" height="13.20" fill="url(#hb)" stroke="#000" stroke-width="2" />
<rect x="137.30" y="23.80" width="24.00" height="12.20" fill="url(#hr)" stroke="#f01010" stroke-width="2" />
<rect x="137.30" y="38.60" width="24.00" height="11.60" fill="url(#hn)" stroke="#1030f4" stroke-width="2" />
<text x="165.5" y="19.6" font-family='"Liberation Sans", sans-serif' font-size="11.2" font-weight="bold" fill="#000" text-anchor="start" >Pure</text>
<text x="165.5" y="34.2" font-family='"Liberation Sans", sans-serif' font-size="11.2" font-weight="bold" fill="#e02020" text-anchor="start" >In Air</text>
<text x="165.5" y="47.8" font-family='"Liberation Sans", sans-serif' font-size="11.2" font-weight="bold" fill="#1c3ce0" text-anchor="start" >In N<tspan font-size="8.5" dy="4.5">2</tspan></text>
<rect x="375.78" y="102.10" width="5.95" height="20.80" fill="url(#hb)" stroke="#000" stroke-width="1.6" />
<line x1="378.75" y1="98.97" x2="378.75" y2="103.63" stroke="#000" stroke-width="1" />
<line x1="377.05" y1="98.97" x2="380.45" y2="98.97" stroke="#000" stroke-width="1.1" />
<line x1="377.05" y1="103.63" x2="380.45" y2="103.63" stroke="#000" stroke-width="1.1" />
<rect x="383.33" y="92.53" width="5.95" height="30.37" fill="url(#hr)" stroke="#f01010" stroke-width="1.6" />
<line x1="386.30" y1="89.01" x2="386.30" y2="94.45" stroke="#f01010" stroke-width="1" />
<line x1="384.60" y1="89.01" x2="388.00" y2="89.01" stroke="#f01010" stroke-width="1.1" />
<line x1="384.60" y1="94.45" x2="388.00" y2="94.45" stroke="#f01010" stroke-width="1.1" />
<rect x="390.88" y="71.32" width="5.95" height="51.58" fill="url(#hn)" stroke="#1030f4" stroke-width="1.6" />
<line x1="393.85" y1="68.19" x2="393.85" y2="72.85" stroke="#1030f4" stroke-width="1" />
<line x1="392.15" y1="68.19" x2="395.55" y2="68.19" stroke="#1030f4" stroke-width="1.1" />
<line x1="392.15" y1="72.85" x2="395.55" y2="72.85" stroke="#1030f4" stroke-width="1.1" />
<rect x="402.83" y="90.33" width="5.95" height="32.57" fill="url(#hb)" stroke="#000" stroke-width="1.6" />
<line x1="405.80" y1="87.59" x2="405.80" y2="91.47" stroke="#000" stroke-width="1" />
<line x1="404.10" y1="87.59" x2="407.50" y2="87.59" stroke="#000" stroke-width="1.1" />
<line x1="404.10" y1="91.47" x2="407.50" y2="91.47" stroke="#000" stroke-width="1.1" />
<rect x="410.38" y="85.80" width="5.95" height="37.10" fill="url(#hr)" stroke="#f01010" stroke-width="1.6" />
<line x1="413.35" y1="83.32" x2="413.35" y2="86.68" stroke="#f01010" stroke-width="1" />
<line x1="411.65" y1="83.32" x2="415.05" y2="83.32" stroke="#f01010" stroke-width="1.1" />
<line x1="411.65" y1="86.68" x2="415.05" y2="86.68" stroke="#f01010" stroke-width="1.1" />
<rect x="417.93" y="54.12" width="5.95" height="68.78" fill="url(#hn)" stroke="#1030f4" stroke-width="1.6" />
<line x1="420.90" y1="50.73" x2="420.90" y2="55.90" stroke="#1030f4" stroke-width="1" />
<line x1="419.20" y1="50.73" x2="422.60" y2="50.73" stroke="#1030f4" stroke-width="1.1" />
<line x1="419.20" y1="55.90" x2="422.60" y2="55.90" stroke="#1030f4" stroke-width="1.1" />
<rect x="429.88" y="81.60" width="5.95" height="41.30" fill="url(#hb)" stroke="#000" stroke-width="1.6" />
<line x1="432.85" y1="78.86" x2="432.85" y2="82.74" stroke="#000" stroke-width="1" />
<line x1="431.15" y1="78.86" x2="434.55" y2="78.86" stroke="#000" stroke-width="1.1" />
<line x1="431.15" y1="82.74" x2="434.55" y2="82.74" stroke="#000" stroke-width="1.1" />
<rect x="437.43" y="84.57" width="5.95" height="38.33" fill="url(#hr)" stroke="#f01010" stroke-width="1.6" />
<line x1="440.40" y1="81.83" x2="440.40" y2="85.71" stroke="#f01010" stroke-width="1" />
<line x1="438.70" y1="81.83" x2="442.10" y2="81.83" stroke="#f01010" stroke-width="1.1" />
<line x1="438.70" y1="85.71" x2="442.10" y2="85.71" stroke="#f01010" stroke-width="1.1" />
<rect x="444.98" y="47.13" width="5.95" height="75.77" fill="url(#hn)" stroke="#1030f4" stroke-width="1.6" />
<line x1="447.95" y1="43.74" x2="447.95" y2="48.92" stroke="#1030f4" stroke-width="1" />
<line x1="446.25" y1="43.74" x2="449.65" y2="43.74" stroke="#1030f4" stroke-width="1.1" />
<line x1="446.25" y1="48.92" x2="449.65" y2="48.92" stroke="#1030f4" stroke-width="1.1" />
<rect x="456.93" y="72.22" width="5.95" height="50.68" fill="url(#hb)" stroke="#000" stroke-width="1.6" />
<line x1="459.90" y1="69.48" x2="459.90" y2="73.36" stroke="#000" stroke-width="1" />
<line x1="458.20" y1="69.48" x2="461.60" y2="69.48" stroke="#000" stroke-width="1.1" />
<line x1="458.20" y1="73.36" x2="461.60" y2="73.36" stroke="#000" stroke-width="1.1" />
<rect x="464.48" y="79.08" width="5.95" height="43.82" fill="url(#hr)" stroke="#f01010" stroke-width="1.6" />
<line x1="467.45" y1="75.69" x2="467.45" y2="80.86" stroke="#f01010" stroke-width="1" />
<line x1="465.75" y1="75.69" x2="469.15" y2="75.69" stroke="#f01010" stroke-width="1.1" />
<line x1="465.75" y1="80.86" x2="469.15" y2="80.86" stroke="#f01010" stroke-width="1.1" />
<rect x="472.03" y="43.32" width="5.95" height="79.58" fill="url(#hn)" stroke="#1030f4" stroke-width="1.6" />
<line x1="475.00" y1="39.93" x2="475.00" y2="45.10" stroke="#1030f4" stroke-width="1" />
<line x1="473.30" y1="39.93" x2="476.70" y2="39.93" stroke="#1030f4" stroke-width="1.1" />
<line x1="473.30" y1="45.10" x2="476.70" y2="45.10" stroke="#1030f4" stroke-width="1.1" />
<rect x="483.98" y="60.97" width="5.95" height="61.93" fill="url(#hb)" stroke="#000" stroke-width="1.6" />
<line x1="486.95" y1="57.58" x2="486.95" y2="62.76" stroke="#000" stroke-width="1" />
<line x1="485.25" y1="57.58" x2="488.65" y2="57.58" stroke="#000" stroke-width="1.1" />
<line x1="485.25" y1="62.76" x2="488.65" y2="62.76" stroke="#000" stroke-width="1.1" />
<rect x="491.53" y="78.11" width="5.95" height="44.79" fill="url(#hr)" stroke="#f01010" stroke-width="1.6" />
<line x1="494.50" y1="74.07" x2="494.50" y2="80.54" stroke="#f01010" stroke-width="1" />
<line x1="492.80" y1="74.07" x2="496.20" y2="74.07" stroke="#f01010" stroke-width="1.1" />
<line x1="492.80" y1="80.54" x2="496.20" y2="80.54" stroke="#f01010" stroke-width="1.1" />
<rect x="499.08" y="36.33" width="5.95" height="86.57" fill="url(#hn)" stroke="#1030f4" stroke-width="1.6" />
<line x1="502.05" y1="32.94" x2="502.05" y2="38.12" stroke="#1030f4" stroke-width="1" />
<line x1="500.35" y1="32.94" x2="503.75" y2="32.94" stroke="#1030f4" stroke-width="1.1" />
<line x1="500.35" y1="38.12" x2="503.75" y2="38.12" stroke="#1030f4" stroke-width="1.1" />
<rect x="511.02" y="40.08" width="5.95" height="82.82" fill="url(#hb)" stroke="#000" stroke-width="1.6" />
<line x1="514.00" y1="37.34" x2="514.00" y2="41.22" stroke="#000" stroke-width="1" />
<line x1="512.30" y1="37.34" x2="515.70" y2="37.34" stroke="#000" stroke-width="1.1" />
<line x1="512.30" y1="41.22" x2="515.70" y2="41.22" stroke="#000" stroke-width="1.1" />
<rect x="518.57" y="70.41" width="5.95" height="52.49" fill="url(#hr)" stroke="#f01010" stroke-width="1.6" />
<line x1="521.55" y1="67.67" x2="521.55" y2="71.55" stroke="#f01010" stroke-width="1" />
<line x1="519.85" y1="67.67" x2="523.25" y2="67.67" stroke="#f01010" stroke-width="1.1" />
<line x1="519.85" y1="71.55" x2="523.25" y2="71.55" stroke="#f01010" stroke-width="1.1" />
<rect x="526.12" y="12.98" width="5.95" height="109.92" fill="url(#hn)" stroke="#1030f4" stroke-width="1.6" />
<line x1="529.10" y1="8.50" x2="529.10" y2="15.87" stroke="#1030f4" stroke-width="1" />
<line x1="527.40" y1="8.50" x2="530.80" y2="8.50" stroke="#1030f4" stroke-width="1.1" />
<line x1="527.40" y1="15.87" x2="530.80" y2="15.87" stroke="#1030f4" stroke-width="1.1" />
<rect x="358.80" y="6.60" width="189.80" height="116.30" fill="none" stroke="#000" stroke-width="1.7" />
<line x1="354.80" y1="122.90" x2="358.80" y2="122.90" stroke="#000" stroke-width="1.5" />
<line x1="354.80" y1="103.50" x2="358.80" y2="103.50" stroke="#000" stroke-width="1.5" />
<line x1="354.80" y1="84.10" x2="358.80" y2="84.10" stroke="#000" stroke-width="1.5" />
<line x1="354.80" y1="64.70" x2="358.80" y2="64.70" stroke="#000" stroke-width="1.5" />
<line x1="354.80" y1="45.30" x2="358.80" y2="45.30" stroke="#000" stroke-width="1.5" />
<line x1="354.80" y1="25.89" x2="358.80" y2="25.89" stroke="#000" stroke-width="1.5" />
<line x1="354.80" y1="6.49" x2="358.80" y2="6.49" stroke="#000" stroke-width="1.5" />
<line x1="356.30" y1="113.20" x2="358.80" y2="113.20" stroke="#000" stroke-width="1.4" />
<line x1="356.30" y1="93.80" x2="358.80" y2="93.80" stroke="#000" stroke-width="1.4" />
<line x1="356.30" y1="74.40" x2="358.80" y2="74.40" stroke="#000" stroke-width="1.4" />
<line x1="356.30" y1="55.00" x2="358.80" y2="55.00" stroke="#000" stroke-width="1.4" />
<line x1="356.30" y1="35.60" x2="358.80" y2="35.60" stroke="#000" stroke-width="1.4" />
<line x1="356.30" y1="16.19" x2="358.80" y2="16.19" stroke="#000" stroke-width="1.4" />
<line x1="358.80" y1="122.90" x2="358.80" y2="125.70" stroke="#000" stroke-width="1.4" />
<line x1="365.56" y1="122.90" x2="365.56" y2="125.70" stroke="#000" stroke-width="1.4" />
<line x1="372.32" y1="122.90" x2="372.32" y2="125.70" stroke="#000" stroke-width="1.4" />
<line x1="379.09" y1="122.90" x2="379.09" y2="125.70" stroke="#000" stroke-width="1.4" />
<line x1="385.85" y1="122.90" x2="385.85" y2="125.70" stroke="#000" stroke-width="1.4" />
<line x1="392.61" y1="122.90" x2="392.61" y2="125.70" stroke="#000" stroke-width="1.4" />
<line x1="399.38" y1="122.90" x2="399.38" y2="125.70" stroke="#000" stroke-width="1.4" />
<line x1="406.14" y1="122.90" x2="406.14" y2="125.70" stroke="#000" stroke-width="1.4" />
<line x1="412.90" y1="122.90" x2="412.90" y2="125.70" stroke="#000" stroke-width="1.4" />
<line x1="419.66" y1="122.90" x2="419.66" y2="125.70" stroke="#000" stroke-width="1.4" />
<line x1="426.43" y1="122.90" x2="426.43" y2="125.70" stroke="#000" stroke-width="1.4" />
<line x1="433.19" y1="122.90" x2="433.19" y2="125.70" stroke="#000" stroke-width="1.4" />
<line x1="439.95" y1="122.90" x2="439.95" y2="125.70" stroke="#000" stroke-width="1.4" />
<line x1="446.71" y1="122.90" x2="446.71" y2="125.70" stroke="#000" stroke-width="1.4" />
<line x1="453.48" y1="122.90" x2="453.48" y2="125.70" stroke="#000" stroke-width="1.4" />
<line x1="460.24" y1="122.90" x2="460.24" y2="125.70" stroke="#000" stroke-width="1.4" />
<line x1="467.00" y1="122.90" x2="467.00" y2="125.70" stroke="#000" stroke-width="1.4" />
<line x1="473.76" y1="122.90" x2="473.76" y2="125.70" stroke="#000" stroke-width="1.4" />
<line x1="480.53" y1="122.90" x2="480.53" y2="125.70" stroke="#000" stroke-width="1.4" />
<line x1="487.29" y1="122.90" x2="487.29" y2="125.70" stroke="#000" stroke-width="1.4" />
<line x1="494.05" y1="122.90" x2="494.05" y2="125.70" stroke="#000" stroke-width="1.4" />
<line x1="500.81" y1="122.90" x2="500.81" y2="125.70" stroke="#000" stroke-width="1.4" />
<line x1="507.58" y1="122.90" x2="507.58" y2="125.70" stroke="#000" stroke-width="1.4" />
<line x1="514.34" y1="122.90" x2="514.34" y2="125.70" stroke="#000" stroke-width="1.4" />
<line x1="521.10" y1="122.90" x2="521.10" y2="125.70" stroke="#000" stroke-width="1.4" />
<line x1="527.86" y1="122.90" x2="527.86" y2="125.70" stroke="#000" stroke-width="1.4" />
<line x1="534.62" y1="122.90" x2="534.62" y2="125.70" stroke="#000" stroke-width="1.4" />
<line x1="541.39" y1="122.90" x2="541.39" y2="125.70" stroke="#000" stroke-width="1.4" />
<line x1="548.15" y1="122.90" x2="548.15" y2="125.70" stroke="#000" stroke-width="1.4" />
<text x="352.6" y="126.4" font-family='"Liberation Sans", sans-serif' font-size="12.2" font-weight="bold" fill="#000" text-anchor="end" >0</text>
<text x="352.6" y="106.999" font-family='"Liberation Sans", sans-serif' font-size="12.2" font-weight="bold" fill="#000" text-anchor="end" >30</text>
<text x="352.6" y="87.598" font-family='"Liberation Sans", sans-serif' font-size="12.2" font-weight="bold" fill="#000" text-anchor="end" >60</text>
<text x="352.6" y="68.197" font-family='"Liberation Sans", sans-serif' font-size="12.2" font-weight="bold" fill="#000" text-anchor="end" >90</text>
<text x="352.6" y="48.79599999999999" font-family='"Liberation Sans", sans-serif' font-size="12.2" font-weight="bold" fill="#000" text-anchor="end" >120</text>
<text x="352.6" y="29.394999999999996" font-family='"Liberation Sans", sans-serif' font-size="12.2" font-weight="bold" fill="#000" text-anchor="end" >150</text>
<text x="352.6" y="9.994" font-family='"Liberation Sans", sans-serif' font-size="12.2" font-weight="bold" fill="#000" text-anchor="end" >180</text>
<text x="386.3" y="137.9" font-family='"Liberation Sans", sans-serif' font-size="11.8" font-weight="bold" fill="#000" text-anchor="middle" >50</text>
<text x="413.35" y="137.9" font-family='"Liberation Sans", sans-serif' font-size="11.8" font-weight="bold" fill="#000" text-anchor="middle" >100</text>
<text x="440.40000000000003" y="137.9" font-family='"Liberation Sans", sans-serif' font-size="11.8" font-weight="bold" fill="#000" text-anchor="middle" >250</text>
<text x="467.45000000000005" y="137.9" font-family='"Liberation Sans", sans-serif' font-size="11.8" font-weight="bold" fill="#000" text-anchor="middle" >500</text>
<text x="494.5" y="137.9" font-family='"Liberation Sans", sans-serif' font-size="11.8" font-weight="bold" fill="#000" text-anchor="middle" >750</text>
<text x="521.55" y="137.9" font-family='"Liberation Sans", sans-serif' font-size="11.8" font-weight="bold" fill="#000" text-anchor="middle" >1000</text>
<text x="331" y="109.3" font-family='"Liberation Sans", sans-serif' font-size="13.8" font-weight="bold" fill="#000" text-anchor="start" transform="rotate(-90 331 109.3)" >Response (%)</text>
<text x="454.1" y="154.5" font-family='"Liberation Sans", sans-serif' font-size="13.2" font-weight="bold" fill="#000" text-anchor="middle" >Concentration of gas (ppm)</text>
<text x="436.6" y="21.7" font-family='"Liberation Serif", serif' font-size="18.5" font-weight="bold" fill="#000" text-anchor="start" >(c)</text>
<rect x="361.20" y="8.60" width="23.60" height="11.20" fill="url(#hb)" stroke="#000" stroke-width="2" />
<rect x="361.20" y="22.20" width="23.60" height="11.40" fill="url(#hr)" stroke="#f01010" stroke-width="2" />
<rect x="361.20" y="36.40" width="23.60" height="11.40" fill="url(#hn)" stroke="#1030f4" stroke-width="2" />
<text x="389.3" y="17.9" font-family='"Liberation Sans", sans-serif' font-size="10.5" font-weight="bold" fill="#000" text-anchor="start" >Pure</text>
<text x="389.3" y="31.8" font-family='"Liberation Sans", sans-serif' font-size="10.5" font-weight="bold" fill="#e02020" text-anchor="start" >In Air</text>
<text x="389.3" y="45.4" font-family='"Liberation Sans", sans-serif' font-size="10.5" font-weight="bold" fill="#1c3ce0" text-anchor="start" >In N<tspan font-size="8" dy="4.8">2</tspan></text>
<rect x="61.00" y="173.80" width="213.50" height="158.40" fill="none" stroke="#444" stroke-width="1" />
<line x1="57.00" y1="332.20" x2="61.00" y2="332.20" stroke="#444" stroke-width="1" />
<text x="56.3" y="335.09999999999997" font-family='"Liberation Sans", sans-serif' font-size="8" font-weight="normal" fill="#333" text-anchor="end" >0</text>
<line x1="57.00" y1="302.42" x2="61.00" y2="302.42" stroke="#444" stroke-width="1" />
<text x="56.3" y="305.31899999999996" font-family='"Liberation Sans", sans-serif' font-size="8" font-weight="normal" fill="#333" text-anchor="end" >30</text>
<line x1="57.00" y1="272.64" x2="61.00" y2="272.64" stroke="#444" stroke-width="1" />
<text x="56.3" y="275.53799999999995" font-family='"Liberation Sans", sans-serif' font-size="8" font-weight="normal" fill="#333" text-anchor="end" >60</text>
<line x1="57.00" y1="242.86" x2="61.00" y2="242.86" stroke="#444" stroke-width="1" />
<text x="56.3" y="245.75699999999998" font-family='"Liberation Sans", sans-serif' font-size="8" font-weight="normal" fill="#333" text-anchor="end" >90</text>
<line x1="57.00" y1="213.08" x2="61.00" y2="213.08" stroke="#444" stroke-width="1" />
<text x="56.3" y="215.97599999999997" font-family='"Liberation Sans", sans-serif' font-size="8" font-weight="normal" fill="#333" text-anchor="end" >120</text>
<line x1="57.00" y1="183.29" x2="61.00" y2="183.29" stroke="#444" stroke-width="1" />
<text x="56.3" y="186.195" font-family='"Liberation Sans", sans-serif' font-size="8" font-weight="normal" fill="#333" text-anchor="end" >150</text>
<line x1="58.50" y1="317.31" x2="61.00" y2="317.31" stroke="#444" stroke-width="1" />
<line x1="58.50" y1="287.53" x2="61.00" y2="287.53" stroke="#444" stroke-width="1" />
<line x1="58.50" y1="257.75" x2="61.00" y2="257.75" stroke="#444" stroke-width="1" />
<line x1="58.50" y1="227.97" x2="61.00" y2="227.97" stroke="#444" stroke-width="1" />
<line x1="58.50" y1="198.19" x2="61.00" y2="198.19" stroke="#444" stroke-width="1" />
<line x1="74.65" y1="332.20" x2="74.65" y2="336.20" stroke="#444" stroke-width="1" />
<line x1="166.50" y1="332.20" x2="166.50" y2="336.20" stroke="#444" stroke-width="1" />
<line x1="258.35" y1="332.20" x2="258.35" y2="336.20" stroke="#444" stroke-width="1" />
<line x1="102.30" y1="332.20" x2="102.30" y2="334.40" stroke="#444" stroke-width="1" />
<line x1="118.47" y1="332.20" x2="118.47" y2="334.40" stroke="#444" stroke-width="1" />
<line x1="129.95" y1="332.20" x2="129.95" y2="334.40" stroke="#444" stroke-width="1" />
<line x1="138.85" y1="332.20" x2="138.85" y2="334.40" stroke="#444" stroke-width="1" />
<line x1="146.12" y1="332.20" x2="146.12" y2="334.40" stroke="#444" stroke-width="1" />
<line x1="152.27" y1="332.20" x2="152.27" y2="334.40" stroke="#444" stroke-width="1" />
<line x1="157.60" y1="332.20" x2="157.60" y2="334.40" stroke="#444" stroke-width="1" />
<line x1="162.30" y1="332.20" x2="162.30" y2="334.40" stroke="#444" stroke-width="1" />
<line x1="194.15" y1="332.20" x2="194.15" y2="334.40" stroke="#444" stroke-width="1" />
<line x1="210.32" y1="332.20" x2="210.32" y2="334.40" stroke="#444" stroke-width="1" />
<line x1="221.80" y1="332.20" x2="221.80" y2="334.40" stroke="#444" stroke-width="1" />
<line x1="230.70" y1="332.20" x2="230.70" y2="334.40" stroke="#444" stroke-width="1" />
<line x1="237.97" y1="332.20" x2="237.97" y2="334.40" stroke="#444" stroke-width="1" />
<line x1="244.12" y1="332.20" x2="244.12" y2="334.40" stroke="#444" stroke-width="1" />
<line x1="249.45" y1="332.20" x2="249.45" y2="334.40" stroke="#444" stroke-width="1" />
<line x1="254.15" y1="332.20" x2="254.15" y2="334.40" stroke="#444" stroke-width="1" />
<text x="74.65" y="344" font-family='"Liberation Sans", sans-serif' font-size="8" font-weight="normal" fill="#333" text-anchor="middle" >0.1</text>
<text x="166.5" y="344" font-family='"Liberation Sans", sans-serif' font-size="8" font-weight="normal" fill="#333" text-anchor="middle" >1</text>
<text x="258.35" y="344" font-family='"Liberation Sans", sans-serif' font-size="8" font-weight="normal" fill="#333" text-anchor="middle" >10</text>
<polyline points="74.65,321.28 166.50,309.37 258.35,213.08" fill="none" stroke="#1e1e96" stroke-width="1.2"/>
<rect x="71.45" y="318.08" width="6.40" height="6.40" fill="#fff" stroke="#1e1e96" stroke-width="1.2" />
<rect x="163.30" y="306.17" width="6.40" height="6.40" fill="#fff" stroke="#1e1e96" stroke-width="1.2" />
<rect x="255.15" y="209.88" width="6.40" height="6.40" fill="#fff" stroke="#1e1e96" stroke-width="1.2" />
<polyline points="74.65,312.35 166.50,300.43 258.35,199.18" fill="none" stroke="#c22424" stroke-width="1.2"/>
<circle cx="74.65" cy="312.35" r="3.6" fill="#fff" stroke="#c22424" stroke-width="1.2"/>
<circle cx="166.50" cy="300.43" r="3.6" fill="#fff" stroke="#c22424" stroke-width="1.2"/>
<circle cx="258.35" cy="199.18" r="3.6" fill="#fff" stroke="#c22424" stroke-width="1.2"/>
<polyline points="74.65,301.43 166.50,278.59 258.35,183.29" fill="none" stroke="#868a22" stroke-width="1.2"/>
<path d="M74.65,296.83 L79.65,305.03 L69.65,305.03 Z" fill="#fff" stroke="#868a22" stroke-width="1.2"/>
<path d="M166.50,273.99 L171.50,282.19 L161.50,282.19 Z" fill="#fff" stroke="#868a22" stroke-width="1.2"/>
<path d="M258.35,178.69 L263.35,186.89 L253.35,186.89 Z" fill="#fff" stroke="#868a22" stroke-width="1.2"/>
<line x1="74.80" y1="192.20" x2="100.00" y2="192.20" stroke="#1e1e96" stroke-width="1.2" />
<rect x="84.50" y="189.20" width="6.00" height="6.00" fill="#fff" stroke="#1e1e96" stroke-width="1.2" />
<text x="102.6" y="196.1" font-family='"Liberation Sans", sans-serif' font-size="11" font-weight="normal" fill="#1e1e96" text-anchor="start" >1 M eV-50 kGy</text>
<line x1="74.80" y1="205.50" x2="100.00" y2="205.50" stroke="#c22424" stroke-width="1.2" />
<circle cx="87.50" cy="205.50" r="3.4" fill="#fff" stroke="#c22424" stroke-width="1.2"/>
<text x="102.6" y="209.4" font-family='"Liberation Sans", sans-serif' font-size="11" font-weight="normal" fill="#c22424" text-anchor="start" >1 M eV-100 kGy</text>
<line x1="74.80" y1="219.00" x2="100.00" y2="219.00" stroke="#868a22" stroke-width="1.2" />
<path d="M87.50,213.60 L92.50,222.00 L82.50,222.00 Z" fill="#fff" stroke="#868a22" stroke-width="1.2"/>
<text x="102.6" y="222.9" font-family='"Liberation Sans", sans-serif' font-size="11" font-weight="normal" fill="#868a22" text-anchor="start" >1 M eV-150 kGy</text>
<text x="2.8" y="180" font-family='"Liberation Serif", serif' font-size="19.3" font-weight="bold" fill="#000" text-anchor="start" >(d)</text>
<text x="33.3" y="317.4" font-family='"Liberation Sans", sans-serif' font-size="13" font-weight="normal" fill="#222" text-anchor="start" transform="rotate(-90 33.3 317.4)" >Sensor response (R<tspan font-size="8" dy="3">a</tspan><tspan dy="-3">/R</tspan><tspan font-size="8" dy="3">g</tspan><tspan dy="-3">)</tspan></text>
<text x="101.2" y="356.1" font-family='"Liberation Sans", sans-serif' font-size="12.8" font-weight="normal" fill="#222" text-anchor="start" >H<tspan font-size="9.5">2</tspan> concentration (ppm)</text>
<rect x="345.00" y="176.20" width="192.00" height="154.10" fill="none" stroke="#333" stroke-width="1.2" />
<line x1="340.00" y1="330.30" x2="345.00" y2="330.30" stroke="#333" stroke-width="1.1" />
<text x="336.6" y="334.1" font-family='"Liberation Sans", sans-serif' font-size="10.6" font-weight="bold" fill="#111" text-anchor="end" >30</text>
<line x1="340.00" y1="314.89" x2="345.00" y2="314.89" stroke="#333" stroke-width="1.1" />
<text x="336.6" y="318.69" font-family='"Liberation Sans", sans-serif' font-size="10.6" font-weight="bold" fill="#111" text-anchor="end" >35</text>
<line x1="340.00" y1="299.48" x2="345.00" y2="299.48" stroke="#333" stroke-width="1.1" />
<text x="336.6" y="303.28000000000003" font-family='"Liberation Sans", sans-serif' font-size="10.6" font-weight="bold" fill="#111" text-anchor="end" >40</text>
<line x1="340.00" y1="284.07" x2="345.00" y2="284.07" stroke="#333" stroke-width="1.1" />
<text x="336.6" y="287.87" font-family='"Liberation Sans", sans-serif' font-size="10.6" font-weight="bold" fill="#111" text-anchor="end" >45</text>
<line x1="340.00" y1="268.66" x2="345.00" y2="268.66" stroke="#333" stroke-width="1.1" />
<text x="336.6" y="272.46000000000004" font-family='"Liberation Sans", sans-serif' font-size="10.6" font-weight="bold" fill="#111" text-anchor="end" >50</text>
<line x1="340.00" y1="253.25" x2="345.00" y2="253.25" stroke="#333" stroke-width="1.1" />
<text x="336.6" y="257.05" font-family='"Liberation Sans", sans-serif' font-size="10.6" font-weight="bold" fill="#111" text-anchor="end" >55</text>
<line x1="340.00" y1="237.84" x2="345.00" y2="237.84" stroke="#333" stroke-width="1.1" />
<text x="336.6" y="241.64000000000004" font-family='"Liberation Sans", sans-serif' font-size="10.6" font-weight="bold" fill="#111" text-anchor="end" >60</text>
<line x1="340.00" y1="222.43" x2="345.00" y2="222.43" stroke="#333" stroke-width="1.1" />
<text x="336.6" y="226.23000000000002" font-family='"Liberation Sans", sans-serif' font-size="10.6" font-weight="bold" fill="#111" text-anchor="end" >65</text>
<line x1="340.00" y1="207.02" x2="345.00" y2="207.02" stroke="#333" stroke-width="1.1" />
<text x="336.6" y="210.82000000000002" font-family='"Liberation Sans", sans-serif' font-size="10.6" font-weight="bold" fill="#111" text-anchor="end" >70</text>
<line x1="340.00" y1="191.61" x2="345.00" y2="191.61" stroke="#333" stroke-width="1.1" />
<text x="336.6" y="195.41000000000003" font-family='"Liberation Sans", sans-serif' font-size="10.6" font-weight="bold" fill="#111" text-anchor="end" >75</text>
<line x1="340.00" y1="176.20" x2="345.00" y2="176.20" stroke="#333" stroke-width="1.1" />
<text x="336.6" y="180.00000000000003" font-family='"Liberation Sans", sans-serif' font-size="10.6" font-weight="bold" fill="#111" text-anchor="end" >80</text>
<line x1="342.00" y1="322.60" x2="345.00" y2="322.60" stroke="#333" stroke-width="1.1" />
<line x1="342.00" y1="307.19" x2="345.00" y2="307.19" stroke="#333" stroke-width="1.1" />
<line x1="342.00" y1="291.78" x2="345.00" y2="291.78" stroke="#333" stroke-width="1.1" />
<line x1="342.00" y1="276.37" x2="345.00" y2="276.37" stroke="#333" stroke-width="1.1" />
<line x1="342.00" y1="260.96" x2="345.00" y2="260.96" stroke="#333" stroke-width="1.1" />
<line x1="342.00" y1="245.55" x2="345.00" y2="245.55" stroke="#333" stroke-width="1.1" />
<line x1="342.00" y1="230.14" x2="345.00" y2="230.14" stroke="#333" stroke-width="1.1" />
<line x1="342.00" y1="214.73" x2="345.00" y2="214.73" stroke="#333" stroke-width="1.1" />
<line x1="342.00" y1="199.32" x2="345.00" y2="199.32" stroke="#333" stroke-width="1.1" />
<line x1="342.00" y1="183.91" x2="345.00" y2="183.91" stroke="#333" stroke-width="1.1" />
<line x1="364.00" y1="330.30" x2="364.00" y2="335.30" stroke="#333" stroke-width="1.1" />
<line x1="402.30" y1="330.30" x2="402.30" y2="335.30" stroke="#333" stroke-width="1.1" />
<line x1="440.60" y1="330.30" x2="440.60" y2="335.30" stroke="#333" stroke-width="1.1" />
<line x1="478.90" y1="330.30" x2="478.90" y2="335.30" stroke="#333" stroke-width="1.1" />
<line x1="517.20" y1="330.30" x2="517.20" y2="335.30" stroke="#333" stroke-width="1.1" />
<line x1="344.85" y1="330.30" x2="344.85" y2="333.30" stroke="#333" stroke-width="1.1" />
<line x1="383.15" y1="330.30" x2="383.15" y2="333.30" stroke="#333" stroke-width="1.1" />
<line x1="421.45" y1="330.30" x2="421.45" y2="333.30" stroke="#333" stroke-width="1.1" />
<line x1="459.75" y1="330.30" x2="459.75" y2="333.30" stroke="#333" stroke-width="1.1" />
<line x1="498.05" y1="330.30" x2="498.05" y2="333.30" stroke="#333" stroke-width="1.1" />
<line x1="536.35" y1="330.30" x2="536.35" y2="333.30" stroke="#333" stroke-width="1.1" />
<text x="364.0" y="345.2" font-family='"Liberation Sans", sans-serif' font-size="10.2" font-weight="bold" fill="#111" text-anchor="middle" >0kGy</text>
<text x="402.3" y="345.2" font-family='"Liberation Sans", sans-serif' font-size="10.2" font-weight="bold" fill="#111" text-anchor="middle" >1kGy</text>
<text x="440.6" y="345.2" font-family='"Liberation Sans", sans-serif' font-size="10.2" font-weight="bold" fill="#111" text-anchor="middle" >2kGy</text>
<text x="478.9" y="345.2" font-family='"Liberation Sans", sans-serif' font-size="10.2" font-weight="bold" fill="#111" text-anchor="middle" >5kGy</text>
<text x="517.2" y="345.2" font-family='"Liberation Sans", sans-serif' font-size="10.2" font-weight="bold" fill="#111" text-anchor="middle" >10kGy</text>
<polyline points="364.00,216.11 402.30,186.68 440.60,197.47 478.90,250.17 517.20,319.51" fill="none" stroke="#6868ff" stroke-width="0.8" stroke-dasharray="1,1.4"/>
<polygon points="364.00,211.51 365.12,214.57 368.37,214.69 365.81,216.70 366.70,219.83 364.00,218.01 361.30,219.83 362.19,216.70 359.63,214.69 362.88,214.57" fill="#0000ff"/>
<polygon points="402.30,182.08 403.42,185.14 406.67,185.26 404.11,187.27 405.00,190.40 402.30,188.58 399.60,190.40 400.49,187.27 397.93,185.26 401.18,185.14" fill="#0000ff"/>
<polygon points="440.60,192.87 441.72,195.93 444.97,196.04 442.41,198.05 443.30,201.19 440.60,199.37 437.90,201.19 438.79,198.05 436.23,196.04 439.48,195.93" fill="#0000ff"/>
<polygon points="478.90,245.57 480.02,248.63 483.27,248.75 480.71,250.76 481.60,253.89 478.90,252.07 476.20,253.89 477.09,250.76 474.53,248.75 477.78,248.63" fill="#0000ff"/>
<polygon points="517.20,314.91 518.32,317.98 521.57,318.09 519.01,320.10 519.90,323.23 517.20,321.41 514.50,323.23 515.39,320.10 512.83,318.09 516.08,317.98" fill="#0000ff"/>
<line x1="492.30" y1="182.20" x2="506.80" y2="182.20" stroke="#6868ff" stroke-width="0.8" stroke-dasharray="1,1.4"/>
<polygon points="499.70,177.60 500.82,180.66 504.07,180.78 501.51,182.79 502.40,185.92 499.70,184.10 497.00,185.92 497.89,182.79 495.33,180.78 498.58,180.66" fill="#0000ff"/>
<text x="510.4" y="184.8" font-family='"Liberation Serif", serif' font-size="8.4" font-weight="bold" fill="#111" text-anchor="start" >1% H<tspan font-size="6.5" dy="2.2">2</tspan></text>
<text x="284.3" y="179.5" font-family='"Liberation Serif", serif' font-size="18.5" font-weight="bold" fill="#000" text-anchor="start" >(e)</text>
<text x="313.6" y="326.2" font-family='"Liberation Serif", serif' font-size="11.4" font-weight="bold" fill="#111" text-anchor="start" transform="rotate(-90 313.6 326.2)" >Relative Response((R<tspan font-size="8.5" dy="3">a</tspan><tspan dy="-3">-R</tspan><tspan font-size="8.5" dy="3">g</tspan><tspan dy="-3">)/R</tspan><tspan font-size="8.5" dy="3">a</tspan><tspan dy="-3">)</tspan></text>
<text x="431" y="357.8" font-family='"Liberation Serif", serif' font-size="10.8" font-weight="bold" fill="#111" text-anchor="middle" >Gamma Dose</text>
</svg>
</body></html>
